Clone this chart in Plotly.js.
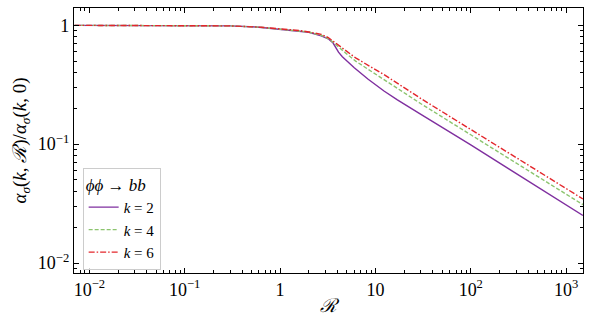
<!DOCTYPE html>
<html>
<head>
<meta charset="utf-8">
<script src="https://cdn.plot.ly/plotly-3.0.1.min.js"></script>
<style>
  html, body { margin: 0; padding: 0; background: #fff; }
  #myDiv { width: 591px; height: 327px; }
</style>
</head>
<body>
<div id="myDiv"></div>
<script>
// Datos
var rK2 = [0.007, 0.01, 0.03, 0.1, 0.3, 0.6, 1.0, 1.6, 2.0, 2.7, 3.2, 3.6, 3.9, 4.1, 4.5, 5.0, 6.0, 8.4, 12.3, 17, 22.6, 30, 100, 300, 1000, 1500];
var aK2 = [1.0, 1.0, 1.0, 0.998, 0.99, 0.965, 0.93, 0.90, 0.875, 0.815, 0.77, 0.71, 0.64, 0.595, 0.545, 0.505, 0.44, 0.352, 0.28, 0.236, 0.204, 0.178, 0.0985, 0.0565, 0.0308, 0.0251];

var rK4 = [0.007, 0.01, 0.03, 0.1, 0.3, 0.6, 1.0, 1.6, 2.0, 2.7, 3.2, 3.6, 4.1, 5.0, 6.2, 12.3, 30, 100, 300, 1000, 1500];
var aK4 = [1.0, 1.0, 1.0, 0.998, 0.99, 0.966, 0.932, 0.903, 0.878, 0.825, 0.775, 0.72, 0.655, 0.575, 0.50, 0.349, 0.219, 0.120, 0.069, 0.038, 0.031];

var rK6 = [0.007, 0.01, 0.03, 0.1, 0.3, 0.6, 1.0, 1.6, 2.0, 2.7, 3.2, 3.6, 4.1, 5.0, 6.2, 12.3, 25, 30, 100, 300, 1000, 1500];
var aK6 = [1.0, 1.0, 1.0, 0.998, 0.99, 0.967, 0.935, 0.905, 0.88, 0.84, 0.79, 0.735, 0.675, 0.60, 0.532, 0.385, 0.265, 0.242, 0.133, 0.0769, 0.0423, 0.0346];

var xTickVals = [0.01, 0.1, 1, 10, 100, 1000];
var xTickText = ['10<sup>−2</sup>', '10<sup>−1</sup>', '1', '10', '10<sup>2</sup>', '10<sup>3</sup>'];
var yTickVals = [0.01, 0.1, 1];
var yTickText = ['10<sup>−2</sup>', '10<sup>−1</sup>', '1'];

// ticks menores 2..9 de cada decada
function minorTicks(lo, hi) {
    var t = [];
    for (var e = lo; e <= hi; e++) {
        for (var m = 2; m < 10; m++) {
            t.push(m * Math.pow(10, e));
        }
    }
    return t;
}

var fuente = "Liberation Serif";

var traceK2 = {
    x: rK2, y: aK2, mode: 'lines', name: '<i>k</i> = 2',
    line: { color: '#7f2f9f', width: 1.4 }
};
var traceK4 = {
    x: rK4, y: aK4, mode: 'lines', name: '<i>k</i> = 4',
    line: { color: '#8cc46e', width: 1.4, dash: '4px,2px' }
};
var traceK6 = {
    x: rK6, y: aK6, mode: 'lines', name: '<i>k</i> = 6',
    line: { color: '#e3262b', width: 1.4, dash: '6px,2px,1.5px,2px' }
};

var ejeComun = {
    type: 'log',
    showgrid: false,
    zeroline: false,
    showline: true,
    linecolor: '#000',
    linewidth: 1.2,
    mirror: 'allticks',
    ticks: 'inside',
    ticklen: 5,
    tickwidth: 1,
    tickcolor: '#000',
    tickmode: 'array',
    tickfont: { family: fuente, size: 18, color: '#000' }
};

var layout = {
    width: 591,
    height: 327,
    paper_bgcolor: '#fff',
    plot_bgcolor: '#fff',
    margin: { l: 74, r: 8, t: 8, b: 54 },
    font: { family: fuente, color: '#000' },
    xaxis: Object.assign({}, ejeComun, {
        range: [-2.161, 3.177],
        tickvals: xTickVals,
        ticktext: xTickText,
        minor: { ticks: 'inside', ticklen: 3, tickcolor: '#000', tickmode: 'array', tickvals: minorTicks(-3, 3) },
        title: { text: '<i>ℛ</i>', font: { family: fuente, size: 19 }, standoff: 0 }
    }),
    yaxis: Object.assign({}, ejeComun, {
        range: [-2.084, 0.146],
        tickvals: yTickVals,
        ticktext: yTickText,
        minor: { ticks: 'inside', ticklen: 3, tickcolor: '#000', tickmode: 'array', tickvals: minorTicks(-3, 0) },
        title: { text: '<i>α<sub>σ</sub></i>(<i>k</i>, <i>ℛ</i>)/<i>α<sub>σ</sub></i>(<i>k</i>, 0)', font: { family: fuente, size: 19 }, standoff: 6 }
    }),
    legend: {
        x: 0.017, y: 0.012, xanchor: 'left', yanchor: 'bottom',
        bgcolor: 'rgba(255,255,255,0.8)',
        bordercolor: '#cccccc',
        borderwidth: 1,
        font: { family: fuente, size: 15, color: '#000' },
        title: { text: '<i>ϕϕ</i> → <i>bb</i>', font: { family: fuente, size: 17 } },
        tracegroupgap: 0
    },
    showlegend: true
};

var config = { staticPlot: true, responsive: false };

Plotly.newPlot('myDiv', [traceK2, traceK4, traceK6], layout, config);
</script>
</body>
</html>
